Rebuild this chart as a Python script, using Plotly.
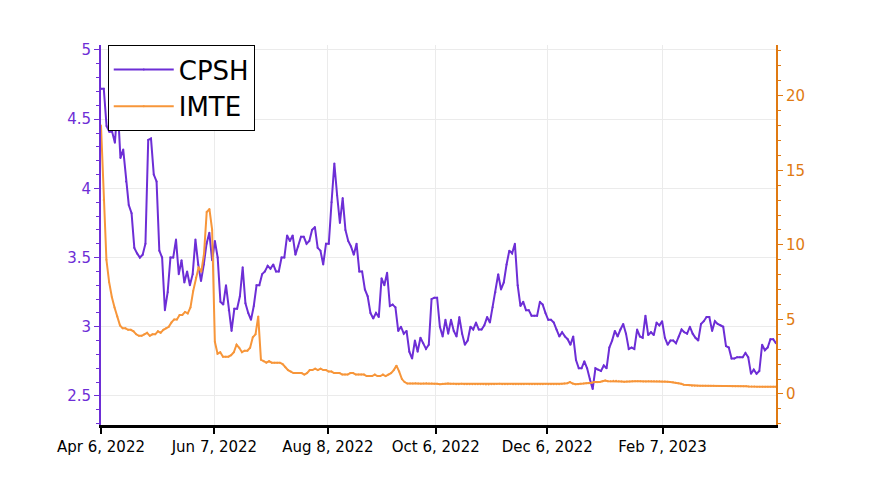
import pandas as pd
import plotly.graph_objects as go

cpsh = [4.72, 4.72, 4.45, 4.41, 4.41, 4.33, 4.6, 4.22, 4.28, 4.05, 3.88, 3.82, 3.57, 3.53, 3.50, 3.52, 3.6, 4.35,
        4.36, 4.1, 4.05, 3.55, 3.5, 3.12, 3.25, 3.5, 3.5, 3.63, 3.38, 3.48, 3.32, 3.4, 3.3, 3.38, 3.63, 3.45, 3.33,
        3.45, 3.6, 3.68, 3.48, 3.62, 3.5, 3.18, 3.16, 3.3, 3.12, 2.97, 3.13, 3.13, 3.22, 3.43, 3.17, 3.1, 3.05, 3.15,
        3.3, 3.3, 3.38, 3.4, 3.44, 3.42, 3.45, 3.4, 3.4, 3.5, 3.5, 3.66, 3.62, 3.66, 3.52, 3.58, 3.65, 3.65, 3.6,
        3.62, 3.7, 3.72, 3.57, 3.55, 3.45, 3.6, 3.6, 3.9, 4.18, 3.95, 3.75, 3.93, 3.7, 3.62, 3.58, 3.52, 3.6, 3.4,
        3.4, 3.27, 3.22, 3.1, 3.06, 3.1, 3.07, 3.35, 3.3, 3.39, 3.15, 3.16, 3.14, 2.97, 3.0, 2.95, 2.97, 2.82, 2.77,
        2.9, 2.82, 2.92, 2.88, 2.84, 2.87, 3.2, 3.21, 3.21, 3.0, 2.93, 3.05, 2.95, 3.05, 2.97, 2.93, 3.07, 2.95,
        2.87, 2.9, 3.0, 2.98, 3.03, 2.98, 2.98, 3.01, 3.07, 3.03, 3.14, 3.25, 3.38, 3.27, 3.32, 3.45, 3.55, 3.53,
        3.6, 3.3, 3.15, 3.18, 3.12, 3.12, 3.08, 3.08, 3.08, 3.18, 3.16, 3.1, 3.05, 3.05, 3.03, 2.98, 2.93, 2.96,
        2.93, 2.91, 2.87, 2.93, 2.76, 2.7, 2.7, 2.75, 2.7, 2.62, 2.55, 2.7, 2.69, 2.68, 2.72, 2.7, 2.85, 2.9, 2.97,
        2.93, 2.98, 3.02, 2.95, 2.84, 2.85, 2.84, 2.98, 2.93, 2.92, 3.08, 2.94, 2.96, 2.94, 3.03, 3.01, 3.04, 2.92,
        2.87, 2.9, 2.9, 2.88, 2.93, 2.98, 2.96, 2.95, 3.0, 2.95, 2.92, 2.9, 3.02, 3.04, 3.07, 3.07, 2.97, 3.04,
        3.02, 3.01, 3.0, 2.86, 2.85, 2.77, 2.77, 2.78, 2.78, 2.78, 2.81, 2.78, 2.66, 2.69, 2.66, 2.68, 2.87, 2.83,
        2.85, 2.91, 2.91, 2.88]

imte = [18, 13, 9, 7.5, 6.5, 5.8, 5.2, 4.6, 4.4, 4.4, 4.3, 4.3, 4.2, 4.0, 3.9, 3.9, 4.0, 4.1, 3.9, 4.0, 4.0,
        4.2, 4.1, 4.3, 4.4, 4.5, 4.8, 5.0, 5.0, 5.3, 5.3, 5.5, 5.4, 5.8, 6.9, 7.8, 8.5, 8.2, 9.4, 12.2, 12.4, 11.0,
        3.5, 2.7, 2.8, 2.5, 2.5, 2.5, 2.6, 2.8, 3.3, 3.1, 2.8, 2.9, 2.9, 3.1, 3.8, 4.0, 5.2,
        2.3, 2.2, 2.1, 2.2, 2.1, 2.1, 2.1, 2.1, 2.0, 1.8, 1.6, 1.5, 1.4, 1.4, 1.4, 1.4, 1.3, 1.4, 1.6, 1.6,
        1.7, 1.6, 1.7, 1.6, 1.6, 1.5, 1.5, 1.4, 1.4, 1.4, 1.3, 1.3, 1.3, 1.4, 1.4, 1.3, 1.3, 1.3, 1.3, 1.2,
        1.2, 1.2, 1.3, 1.2, 1.2, 1.3, 1.2, 1.3, 1.4, 1.6, 1.9, 1.5, 1.0, 0.8,
        0.7, 0.7, 0.7, 0.72, 0.7, 0.68, 0.7, 0.72, 0.7, 0.7, 0.68, 0.68, 0.66, 0.68, 0.68, 0.7, 0.68, 0.68, 0.66,
        0.66, 0.68, 0.66, 0.65, 0.65, 0.66, 0.66, 0.65, 0.66, 0.66, 0.64, 0.64, 0.66, 0.66, 0.67, 0.68, 0.66,
        0.65, 0.66, 0.67, 0.66, 0.66, 0.65, 0.66, 0.66, 0.67, 0.66, 0.66, 0.65, 0.65, 0.66, 0.66, 0.67, 0.66,
        0.66, 0.65, 0.66, 0.66,
        0.68, 0.7, 0.72, 0.8, 0.7, 0.66, 0.66, 0.68, 0.7, 0.72, 0.72, 0.76, 0.8, 0.78, 0.8, 0.85, 0.9, 0.86,
        0.86, 0.88, 0.88, 0.86, 0.84, 0.82, 0.84, 0.84, 0.86, 0.86, 0.86, 0.86,
        0.84, 0.84, 0.85, 0.86, 0.86, 0.86, 0.85, 0.84, 0.84, 0.82, 0.8, 0.78, 0.76, 0.72, 0.68, 0.62, 0.6,
        0.58, 0.56, 0.56, 0.55, 0.55, 0.56, 0.56, 0.56,
        0.55, 0.55, 0.54, 0.54, 0.54, 0.54, 0.53, 0.53, 0.52, 0.52, 0.52, 0.52, 0.51, 0.51, 0.5, 0.5, 0.5,
        0.49, 0.49, 0.49, 0.48, 0.48, 0.48, 0.48, 0.48]

start, end = "2022-04-06", "2023-04-10"
tick_vals = ["2022-04-06", "2022-06-07", "2022-08-08", "2022-10-06", "2022-12-06", "2023-02-07"]
tick_text = ["Apr 6, 2022", "Jun 7, 2022", "Aug 8, 2022", "Oct 6, 2022", "Dec 6, 2022", "Feb 7, 2023"]

x_cpsh = pd.date_range(start, end, periods=len(cpsh))
x_imte = pd.date_range(start, end, periods=len(imte))

PURPLE = "#6d2ed6"
ORANGE = "#f7963a"
ORANGE_AX = "#e07a12"

fig = go.Figure()
fig.add_trace(go.Scatter(x=x_cpsh, y=cpsh, name="CPSH", mode="lines+markers",
                         line=dict(color=PURPLE, width=2), marker=dict(size=2, color=PURPLE)))
fig.add_trace(go.Scatter(x=x_imte, y=imte, name="IMTE", mode="lines+markers", yaxis="y2",
                         line=dict(color=ORANGE, width=2), marker=dict(size=2, color=ORANGE)))

fig.update_layout(
    width=875, height=486, plot_bgcolor="white", paper_bgcolor="white",
    margin=dict(l=93, r=107, t=37, b=69),
    font=dict(family="DejaVu Sans", size=15),
    legend=dict(x=0.01, y=1, xanchor="left", yanchor="top", bordercolor="black", borderwidth=1,
                font=dict(size=26, color="black"), bgcolor="white", itemwidth=60, tracegroupgap=0),
    xaxis=dict(type="date", range=[start, end], tickvals=tick_vals, ticktext=tick_text,
               showline=True, linecolor="black", linewidth=3, ticks="outside", ticklen=6,
               tickcolor="black", tickwidth=2, gridcolor="#ebebeb", tickfont=dict(color="black")),
    yaxis=dict(range=[2.29, 5.036], dtick=0.5, showline=True, linecolor=PURPLE, linewidth=2,
               ticks="outside", tickcolor=PURPLE, tickfont=dict(color=PURPLE), gridcolor="#ebebeb",
               minor=dict(ticks="outside", ticklen=3, tickcolor=PURPLE, dtick=0.1), zeroline=False),
    yaxis2=dict(range=[-2.08, 23.4], dtick=5, overlaying="y", side="right", showline=True,
                linecolor=ORANGE_AX, linewidth=2, ticks="outside", tickcolor=ORANGE_AX,
                tickfont=dict(color=ORANGE_AX), showgrid=False, zeroline=False,
                minor=dict(ticks="outside", ticklen=3, tickcolor=ORANGE_AX, dtick=1)),
)
fig.write_html("out.html")
